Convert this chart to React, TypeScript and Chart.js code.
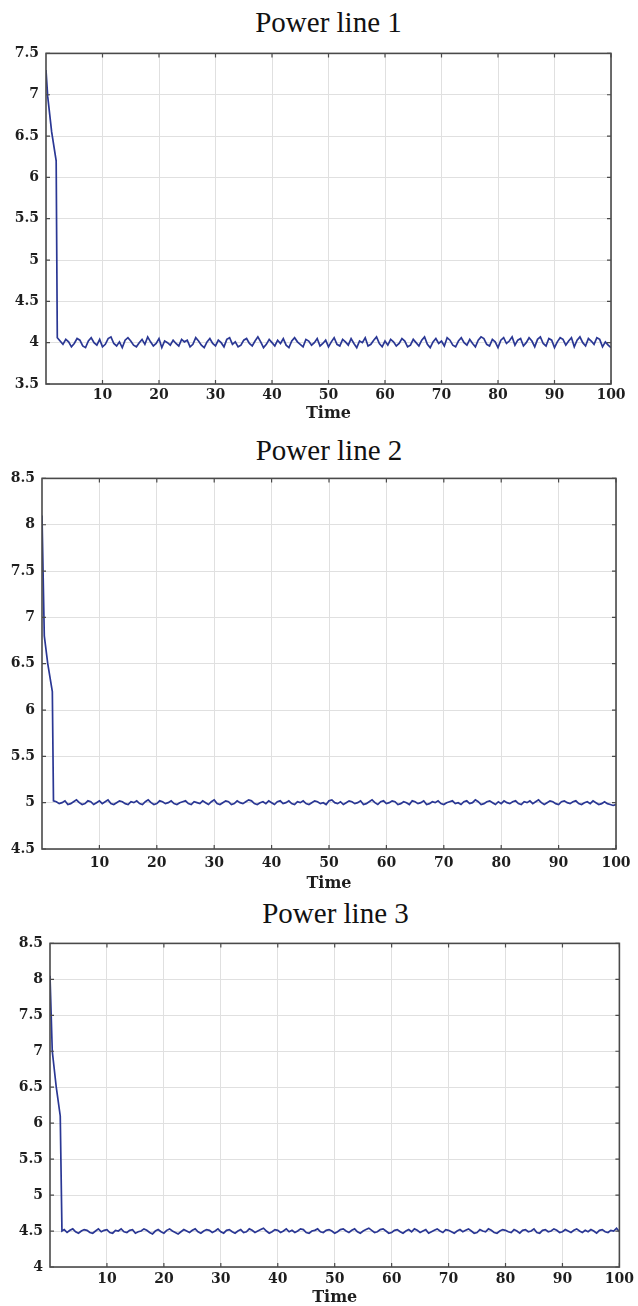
import React, { useEffect, useRef } from "react";
import { Chart, registerables } from "chart.js";

Chart.register(...registerables);

// ---------- data ----------
const xTickValues = [10, 20, 30, 40, 50, 60, 70, 80, 90, 100];
const xLabel = "Time";

const title1 = "Power line 1";
const title2 = "Power line 2";
const title3 = "Power line 3";

const yTicks1 = [3.5, 4, 4.5, 5, 5.5, 6, 6.5, 7, 7.5];
const yTicks2 = [4.5, 5, 5.5, 6, 6.5, 7, 7.5, 8, 8.5];
const yTicks3 = [4, 4.5, 5, 5.5, 6, 6.5, 7, 7.5, 8, 8.5];

// start-up transient (time, power)
const startTime1 = [0, 0.3, 1.0, 1.8, 2.0];
const startPower1 = [7.3, 6.98, 6.55, 6.2, 4.06];
const startTime2 = [0, 0.4, 1.0, 1.8, 2.0];
const startPower2 = [8.1, 6.8, 6.5, 6.2, 5.02];
const startTime3 = [0, 0.4, 1.1, 1.8, 2.1];
const startPower3 = [8.05, 7.0, 6.5, 6.1, 4.5];

// steady state samples, every 0.5 time units from t = 2.5 to t = 100
const steadyStart = 2.5;
const steadyStep = 0.5;

const steadyPower1 = [
  4.02, 3.98, 4.04, 4.01, 3.95, 3.99, 4.05, 4.03, 3.96, 3.94, 4.02, 4.06, 4.0, 3.97, 4.04, 3.95, 3.98, 4.05, 4.07, 3.99,
  3.96, 4.01, 3.94, 4.03, 4.06, 4.02, 3.97, 3.95, 4.0, 4.04, 3.98, 4.07, 4.01, 3.96, 3.99, 4.05, 3.94, 4.02, 4.0, 3.97,
  4.03, 3.99, 3.96, 4.04, 4.01, 4.03, 3.95, 3.98, 4.06, 4.02, 3.97, 3.94, 4.01, 4.05, 3.99, 3.96, 4.03, 4.0, 3.95, 4.04,
  4.06, 3.98, 4.01, 3.95, 3.97, 4.03, 4.05, 3.99, 3.96, 4.02, 4.07, 4.01, 3.94, 3.98, 4.04, 4.0, 3.96, 4.03, 3.99, 4.05,
  3.97, 3.94, 4.02, 4.06, 4.01, 3.98, 3.95, 4.04, 4.02, 3.97, 4.0, 4.05, 3.96, 3.99, 4.03, 3.95, 4.01, 4.06, 3.98, 3.96,
  4.04, 4.01, 3.97, 4.05, 3.99, 3.94, 4.02, 4.0, 4.06, 3.96, 3.98, 4.03, 4.07, 3.99, 3.95, 4.02, 3.97, 4.04, 4.01, 3.96,
  3.99, 4.05, 4.02, 3.95, 3.97, 4.04, 4.0, 3.96, 4.03, 4.07, 3.98, 3.94, 4.01, 4.05, 3.99, 4.02, 3.96, 4.06, 4.03, 3.97,
  3.95, 4.02, 4.06, 4.0, 3.97, 4.04, 3.99, 3.95, 4.03, 4.07, 4.05, 3.98, 3.96, 4.04, 4.01, 3.94, 4.03, 4.06, 3.99, 4.02,
  4.07, 3.97, 4.03, 4.05, 3.96, 4.0, 4.06, 4.02, 3.95, 4.04, 4.07, 3.99, 3.96, 4.05, 4.03, 3.94, 4.01, 4.06, 4.04, 3.97,
  4.02, 4.06, 3.95, 4.03, 4.07, 4.0, 3.96, 4.05, 4.02, 3.98, 4.06, 4.04, 3.95, 4.01, 3.97, 3.94,
];

const steadyPower2 = [
  5.01, 4.99, 5.0, 5.02, 4.98, 4.99, 5.01, 5.03, 5.0, 4.98, 4.99, 5.02, 5.01, 4.98, 5.0, 5.02, 4.99, 5.01, 5.03, 4.99,
  4.98, 5.0, 5.02, 5.01, 4.99, 4.98, 5.01, 5.0, 5.02, 4.99, 4.98, 5.01, 5.03, 5.0, 4.98, 4.99, 5.02, 5.01, 4.99, 5.0,
  5.02, 4.99, 4.98, 5.0, 5.01, 5.02, 4.99, 4.98, 5.01, 5.0, 4.99, 5.02, 5.0, 4.98, 5.01, 5.03, 4.99, 4.98, 5.0, 5.02,
  5.01, 4.98, 4.99, 5.02, 5.0, 4.99, 5.01, 5.03, 5.02, 4.99, 4.98, 5.0, 5.01, 4.99, 5.02, 5.0, 4.98, 5.01, 5.02, 4.99,
  5.0, 5.02, 4.99, 4.98, 5.01, 5.0, 5.02, 4.99, 4.98, 5.0, 5.02, 5.01, 4.99, 5.0, 4.98, 5.02, 5.03, 5.0, 4.99, 5.01,
  4.98, 5.0, 5.02, 5.01, 4.99, 5.0, 5.02, 4.98, 4.99, 5.01, 5.03, 5.0, 4.98, 5.01, 5.02, 4.99, 5.0, 5.02, 5.01, 4.98,
  4.99, 5.01, 5.0, 4.98, 5.02, 5.01, 4.99, 5.0, 5.02, 4.98, 4.99, 5.01, 5.0, 5.02, 4.99, 4.98, 5.0, 5.01, 5.02, 4.99,
  5.0, 4.98, 5.01, 5.02, 4.99, 5.0, 5.03, 5.01, 4.98, 4.99, 5.01, 5.02, 5.0, 4.98, 5.01, 4.99, 5.02, 5.0, 4.99, 5.01,
  5.02, 4.99, 4.98, 5.01, 5.0, 5.02, 4.99, 5.01, 5.03, 5.0, 4.98, 5.0, 5.02, 5.01, 4.99, 4.98, 5.01, 5.02, 5.0, 4.99,
  5.01, 5.02, 4.99, 4.98, 5.0, 5.01, 4.99, 5.02, 5.0, 4.98, 4.99, 5.01, 4.99, 4.98, 4.97, 4.98,
];

const steadyPower3 = [
  4.52, 4.48, 4.51, 4.53, 4.49, 4.47, 4.5, 4.52, 4.51, 4.48, 4.47, 4.5, 4.53, 4.49, 4.51, 4.52, 4.48, 4.47, 4.51, 4.5,
  4.53, 4.49, 4.48, 4.51, 4.52, 4.47, 4.49, 4.5, 4.53, 4.51, 4.48, 4.46, 4.5, 4.52, 4.49, 4.47, 4.51, 4.53, 4.5, 4.48,
  4.46, 4.49, 4.52, 4.5, 4.48, 4.51, 4.53, 4.49, 4.47, 4.5, 4.52, 4.51, 4.48, 4.5, 4.53, 4.49, 4.47, 4.51, 4.52, 4.49,
  4.47, 4.5, 4.52, 4.48, 4.49, 4.53, 4.51, 4.48, 4.5, 4.52, 4.54, 4.5, 4.47, 4.49, 4.52, 4.51, 4.48, 4.5, 4.53, 4.49,
  4.51, 4.48, 4.5, 4.53, 4.52, 4.48, 4.47, 4.5, 4.51, 4.53, 4.49, 4.48, 4.51, 4.52, 4.5, 4.47, 4.49, 4.52, 4.53, 4.5,
  4.48, 4.51, 4.53, 4.49, 4.47, 4.5, 4.52, 4.54, 4.51, 4.48, 4.49, 4.52, 4.53, 4.5, 4.47, 4.48, 4.51, 4.52, 4.49, 4.47,
  4.5, 4.52, 4.49, 4.53, 4.51, 4.48, 4.5, 4.52, 4.47, 4.49, 4.51, 4.53, 4.5, 4.48, 4.52, 4.51, 4.49, 4.47, 4.5, 4.52,
  4.49, 4.51, 4.53, 4.5, 4.47, 4.48, 4.52, 4.5, 4.49, 4.53, 4.51, 4.48, 4.47, 4.5, 4.52, 4.51, 4.49, 4.48, 4.52, 4.5,
  4.47, 4.51, 4.52, 4.49, 4.5, 4.53, 4.48, 4.47, 4.51, 4.52, 4.49, 4.5, 4.53, 4.51, 4.48, 4.49, 4.52, 4.5, 4.48, 4.51,
  4.53, 4.5, 4.48, 4.51, 4.49, 4.52, 4.5, 4.47, 4.51, 4.52, 4.49, 4.48, 4.51, 4.5, 4.54, 4.49,
];

// ---------- styling ----------
const LINE_COLOR = "#2a3794";
const GRID_COLOR = "#e0e0e0";
const FRAME_COLOR = "#4a4a4a";
const TEXT_COLOR = "#1e1e1e";
const TICK_FONT = { family: "'DejaVu Serif'", size: 14, weight: "bold" as const };
const LABEL_FONT = { family: "'DejaVu Serif'", size: 16, weight: "bold" as const };
const PAGE_W = 638;

type Panel = {
  title: string;
  startTime: number[];
  startPower: number[];
  steady: number[];
  yTicks: number[];
  plotLeft: number;
  plotRight: number;
  plotTop: number;
  plotBottom: number;
  titleY: number;
  tickPad: number;
  labelOffset: number;
};

const panels: Panel[] = [
  {
    title: title1, startTime: startTime1, startPower: startPower1, steady: steadyPower1, yTicks: yTicks1,
    plotLeft: 46, plotRight: 611, plotTop: 52, plotBottom: 384, titleY: 22, tickPad: 3, labelOffset: 29,
  },
  {
    title: title2, startTime: startTime2, startPower: startPower2, steady: steadyPower2, yTicks: yTicks2,
    plotLeft: 42, plotRight: 616, plotTop: 477, plotBottom: 849, titleY: 450, tickPad: 6, labelOffset: 34,
  },
  {
    title: title3, startTime: startTime3, startPower: startPower3, steady: steadyPower3, yTicks: yTicks3,
    plotLeft: 50, plotRight: 621, plotTop: 942, plotBottom: 1267, titleY: 913, tickPad: 4, labelOffset: 30,
  },
];

const TOP_PAD = 14;

const framePlugin = {
  id: "matlabFrame",
  afterDatasetsDraw(chart: any) {
    const { ctx, chartArea } = chart;
    const { left, top, right, bottom } = chartArea;
    ctx.save();
    ctx.strokeStyle = FRAME_COLOR;
    ctx.lineWidth = 1.2;
    ctx.beginPath();
    const xs = chart.scales.x;
    xs.ticks.forEach((t: any) => {
      const px = xs.getPixelForValue(t.value);
      ctx.moveTo(px, bottom);
      ctx.lineTo(px, bottom - 4);
      ctx.moveTo(px, top);
      ctx.lineTo(px, top + 4);
    });
    const ys = chart.scales.y;
    ys.ticks.forEach((t: any) => {
      const py = ys.getPixelForValue(t.value);
      ctx.moveTo(left, py);
      ctx.lineTo(left + 4, py);
      ctx.moveTo(right, py);
      ctx.lineTo(right - 4, py);
    });
    ctx.stroke();
    ctx.lineWidth = 1.6;
    ctx.strokeRect(left, top, right - left, bottom - top);
    ctx.restore();
  },
};

function PanelChart({ p }: { p: Panel }) {
  const ref = useRef<HTMLCanvasElement | null>(null);
  const xAxisH = p.labelOffset + 10;
  const canvasTop = p.plotTop - TOP_PAD;
  const canvasH = TOP_PAD + (p.plotBottom - p.plotTop) + xAxisH;

  useEffect(() => {
    if (!ref.current) return;
    const points = [
      ...p.startTime.map((t, i) => ({ x: t, y: p.startPower[i] })),
      ...p.steady.map((v, i) => ({ x: steadyStart + i * steadyStep, y: v })),
    ];
    const chart = new Chart(ref.current, {
      type: "line",
      data: {
        datasets: [
          {
            data: points,
            borderColor: LINE_COLOR,
            borderWidth: 1.7,
            pointRadius: 0,
            tension: 0,
            fill: false,
          },
        ],
      },
      options: {
        animation: false,
        responsive: false,
        maintainAspectRatio: false,
        devicePixelRatio: 1,
        layout: { padding: { top: TOP_PAD, left: 0, bottom: 0, right: PAGE_W - p.plotRight } },
        plugins: {
          legend: { display: false },
          title: { display: false },
          tooltip: { enabled: false },
        },
        scales: {
          x: {
            type: "linear",
            min: 0,
            max: 100,
            afterBuildTicks: (s: any) => {
              s.ticks = xTickValues.map((v) => ({ value: v }));
            },
            afterFit: (s: any) => {
              s.height = xAxisH;
            },
            grid: { color: GRID_COLOR, drawTicks: false, lineWidth: 1 },
            border: { display: false },
            ticks: {
              font: TICK_FONT,
              color: TEXT_COLOR,
              padding: p.tickPad,
              maxRotation: 0,
              autoSkip: false,
              callback: (v: any) => String(v),
            },
            title: {
              display: true,
              text: xLabel,
              font: LABEL_FONT,
              color: TEXT_COLOR,
              padding: 0,
            },
          },
          y: {
            type: "linear",
            min: p.yTicks[0],
            max: p.yTicks[p.yTicks.length - 1],
            afterBuildTicks: (s: any) => {
              s.ticks = p.yTicks.map((v) => ({ value: v }));
            },
            afterFit: (s: any) => {
              s.width = p.plotLeft;
            },
            grid: { color: GRID_COLOR, drawTicks: false, lineWidth: 1 },
            border: { display: false },
            ticks: {
              font: TICK_FONT,
              color: TEXT_COLOR,
              padding: 7,
              autoSkip: false,
              callback: (v: any) => String(v),
            },
          },
        },
      },
      plugins: [framePlugin],
    } as any);
    return () => chart.destroy();
  }, [p]);

  return (
    <>
      <div
        style={{
          position: "absolute",
          left: p.plotLeft,
          width: p.plotRight - p.plotLeft,
          top: p.titleY - 17,
          height: 34,
          lineHeight: "34px",
          textAlign: "center",
          fontFamily: "'Liberation Serif', 'Times New Roman', serif",
          fontSize: 29,
          color: "#111",
          whiteSpace: "nowrap",
        }}
      >
        {p.title}
      </div>
      <canvas
        ref={ref}
        width={PAGE_W}
        height={canvasH}
        style={{ position: "absolute", left: 0, top: canvasTop, width: PAGE_W, height: canvasH, display: "block" }}
      />
    </>
  );
}

export default function App() {
  return (
    <div
      style={{
        position: "absolute",
        left: 0,
        top: 0,
        width: PAGE_W,
        height: 1306,
        background: "#ffffff",
        overflow: "hidden",
      }}
    >
      {panels.map((p, i) => (
        <PanelChart key={i} p={p} />
      ))}
    </div>
  );
}
